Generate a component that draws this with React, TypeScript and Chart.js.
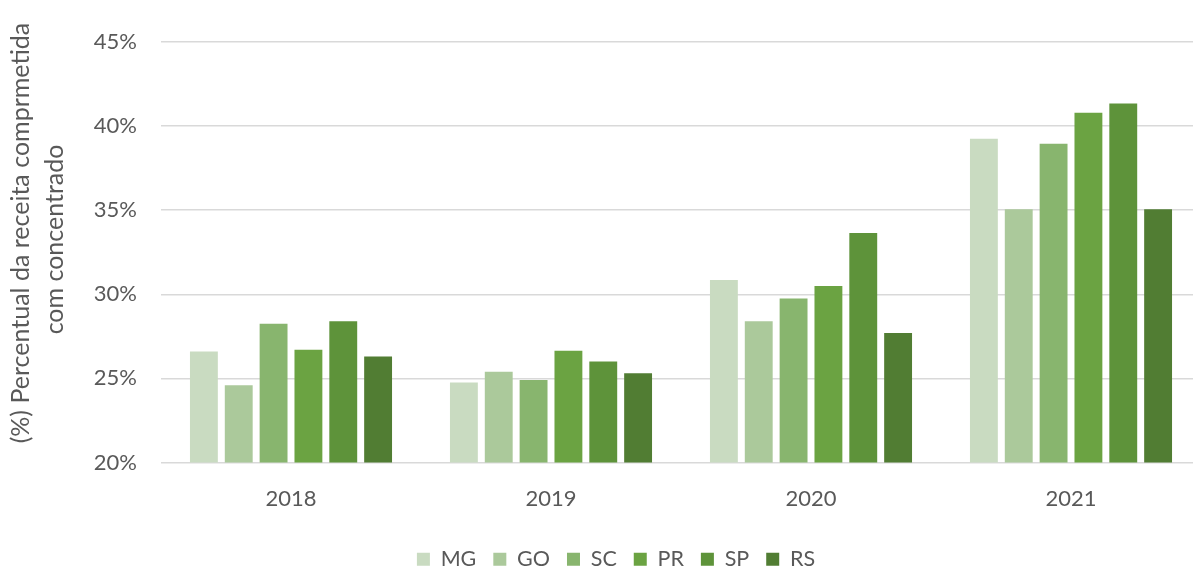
import React, { useEffect, useRef } from "react";
import { Chart, registerables } from "chart.js";

Chart.register(...registerables);

const categories = ["2018", "2019", "2020", "2021"];
const seriesNames = ["MG", "GO", "SC", "PR", "SP", "RS"];
const mgValues = [26.6, 24.75, 30.85, 39.25];
const goValues = [24.6, 25.4, 28.4, 35.05];
const scValues = [28.25, 24.9, 29.75, 38.95];
const prValues = [26.7, 26.65, 30.5, 40.8];
const spValues = [28.4, 26.0, 33.65, 41.35];
const rsValues = [26.3, 25.3, 27.7, 35.05];
const seriesColors = ["#c9dbc1", "#abc99b", "#88b56e", "#6ba342", "#5e933a", "#517d33"];
const yTitle = ["      (%) Percentual da receita comprmetida", "    com concentrado"];
const yMin = 20;
const yMax = 45;
const yStep = 5;

const FONT = "Lato, 'Open Sans', sans-serif";
const TEXT = "#595959";

export default function App() {
  const ref = useRef<HTMLCanvasElement | null>(null);

  useEffect(() => {
    document.body.style.margin = "0";
    const canvas = ref.current;
    if (!canvas) return;
    const allValues = [mgValues, goValues, scValues, prValues, spValues, rsValues];
    const chart = new Chart(canvas, {
      type: "bar",
      data: {
        labels: categories,
        datasets: seriesNames.map((name, i) => ({
          label: name,
          data: allValues[i],
          backgroundColor: seriesColors[i],
          borderWidth: 0,
          categoryPercentage: 0.804,
          barPercentage: 0.8,
          yAxisID: "y",
        })),
      },
      options: {
        responsive: false,
        animation: false,
        devicePixelRatio: 1,
        layout: { padding: { top: 42, left: 0, right: 0, bottom: 0 } },
        plugins: {
          tooltip: { enabled: false },
          legend: {
            position: "bottom",
            labels: {
              boxWidth: 13,
              boxHeight: 13,
              padding: 17,
              color: TEXT,
              font: { family: FONT, size: 21.5, lineHeight: 1 },
            },
          },
        },
        scales: {
          x: {
            grid: { display: false, drawTicks: false },
            border: { display: false },
            ticks: {
              color: TEXT,
              padding: 23,
              font: { family: FONT, size: 22 },
            },
            afterFit: (s: any) => {
              s.height = 69;
            },
          },
          y: {
            position: "left",
            min: yMin,
            max: yMax,
            grid: { color: "#d9d9d9", lineWidth: 1.5, drawTicks: false },
            border: { display: false },
            ticks: {
              stepSize: yStep,
              color: TEXT,
              padding: 24,
              font: { family: FONT, size: 22 },
              callback: (v: any) => v + "%",
            },
            title: {
              display: true,
              text: yTitle,
              color: TEXT,
              padding: { top: 4, bottom: 0 },
              font: { family: FONT, size: 25, lineHeight: 1.36 },
            },
            afterFit: (s: any) => {
              s.width = 161;
            },
          },
          y2: {
            position: "right",
            min: yMin,
            max: yMax,
            grid: { display: false, drawTicks: false },
            border: { display: false },
            ticks: { display: false },
            afterFit: (s: any) => {
              s.width = 31;
            },
          },
        },
      },
    });
    return () => chart.destroy();
  }, []);

  return (
    <div style={{ width: 1193, height: 570, overflow: "hidden", position: "relative", background: "#fff" }}>
      <canvas ref={ref} width={1232} height={580} style={{ display: "block", width: 1232, height: 580 }} />
    </div>
  );
}
